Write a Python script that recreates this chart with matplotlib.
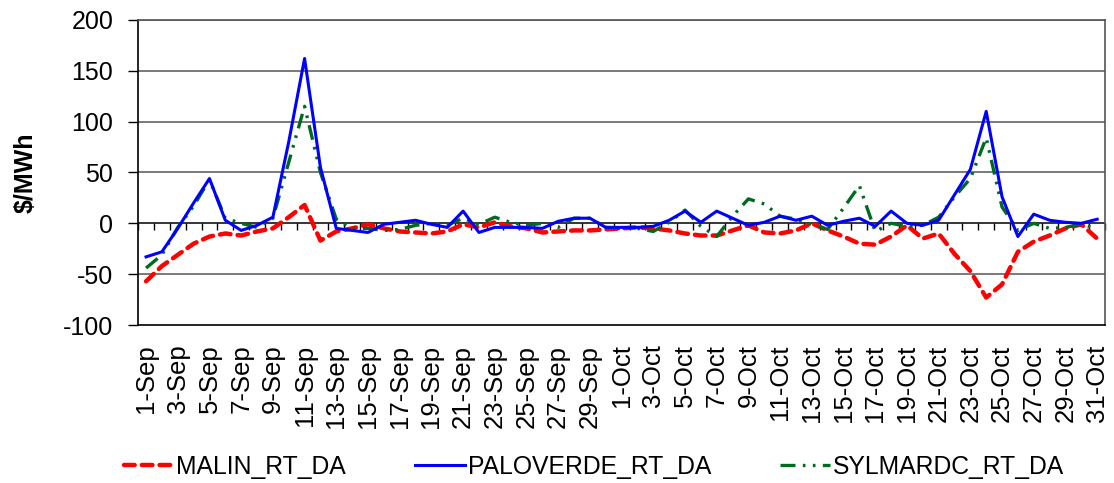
import matplotlib
matplotlib.use('Agg')
import matplotlib.pyplot as plt
import numpy as np

plt.rcParams['font.family'] = ['Liberation Sans', 'DejaVu Sans']
plt.rcParams['axes.unicode_minus'] = False

# daily dates, Sep 1 .. Oct 31
dates = [f'{d}-Sep' for d in range(1, 31)] + [f'{d}-Oct' for d in range(1, 32)]

malin = [-57, -42, -31, -20, -13, -10, -12, -8, -5, 6,
         18, -17, -8, -5, -1, -5, -8, -9, -10, -8,
         -1, -4, 1, -3, -5, -9, -8, -7, -7, -6,
         -5, -4, -5, -7, -10, -12, -12, -7, -2, -9,
         -10, -7, 0, -7, -13, -20, -21, -13, -2, -15,
         -10, -30, -47, -73, -60, -28, -18, -12, -5, -1,
         -15]

paloverde = [-33, -28, -5, 20, 44, 3, -7, -2, 6, 80,
             162, 55, -5, -7, -9, -1, 1, 3, -1, -4,
             12, -9, -4, -4, -4, -5, 2, 5, 5, -4,
             -4, -4, -3, 3, 12, 1, 12, 5, -2, 1,
             7, 3, 7, -2, 2, 5, -3, 12, 0, -2,
             3, 28, 53, 110, 26, -13, 9, 3, 1, 0,
             4]

sylmardc = [-44, -31, -4, 17, 43, 5, 0, -4, 5, 60,
            115, 50, 4, -5, -5, -7, -6, -2, 0, -2,
            5, -1, 6, 1, -2, 0, -4, 5, 5, -4,
            -5, -5, -8, 1, 13, -3, -13, 7, 24, 19,
            7, 4, -1, -6, 15, 37, -8, 0, -3, -2,
            6, 26, 44, 84, 16, -7, 0, -5, -4, -1,
            -5]

x = np.arange(len(dates))

fig, ax = plt.subplots(figsize=(11.14, 4.83), dpi=100)
fig.subplots_adjust(left=0.124, right=0.992, top=0.959, bottom=0.327)

l1, = ax.plot(x, malin, color='#ff0000', linewidth=3.2, dashes=(2.4, 1.6),
              dash_capstyle='round', label='MALIN_RT_DA', zorder=3)
l2, = ax.plot(x, paloverde, color='#0000ff', linewidth=2.2,
              label='PALOVERDE_RT_DA', zorder=4)
l3, = ax.plot(x, sylmardc, color='#006a21', linewidth=2.4,
              dashes=(4.5, 2.2, 0.8, 2.2, 0.8, 2.2),
              label='SYLMARDC_RT_DA', zorder=3)

ax.set_xlim(-0.5, len(dates) - 0.5)
ax.set_ylim(-100, 200)
ax.set_yticks(range(-100, 201, 50))
ax.tick_params(axis='y', labelsize=18, length=7, width=1, pad=11,
               direction='out')

ax.set_xticks(x[::2])
ax.set_xticklabels(dates[::2], rotation=90, fontsize=18.5)
ax.tick_params(axis='x', length=0, pad=14)

for y in [50, 100, 150, 200, -50]:
    ax.axhline(y, color='#555555', linewidth=1.1, zorder=1)
ax.axhline(0, color='black', linewidth=1.1, zorder=2)

# category axis crossing at zero with tick marks between days
sec = ax.secondary_xaxis(1 / 3)
sec.set_xticks(np.arange(-0.5, len(dates), 1.0))
sec.tick_params(length=5, width=1, labelbottom=False, labeltop=False,
                direction='out')
sec.spines['bottom'].set_visible(False)
sec.spines['top'].set_visible(False)

for s in ['top', 'right']:
    ax.spines[s].set_color('#555555')
for s in ax.spines.values():
    s.set_linewidth(1.2)

ax.set_ylabel('$/MWh', fontsize=18, fontweight='bold')
ax.yaxis.set_label_coords(-0.104, 0.5)

fig.legend(handles=[l1, l2, l3], loc='center', bbox_to_anchor=(0.533, 0.033),
           ncol=3, frameon=False, fontsize=17.8, handlelength=2.0,
           handletextpad=0.12, columnspacing=2.8)

fig.savefig('out.png', dpi=100)
